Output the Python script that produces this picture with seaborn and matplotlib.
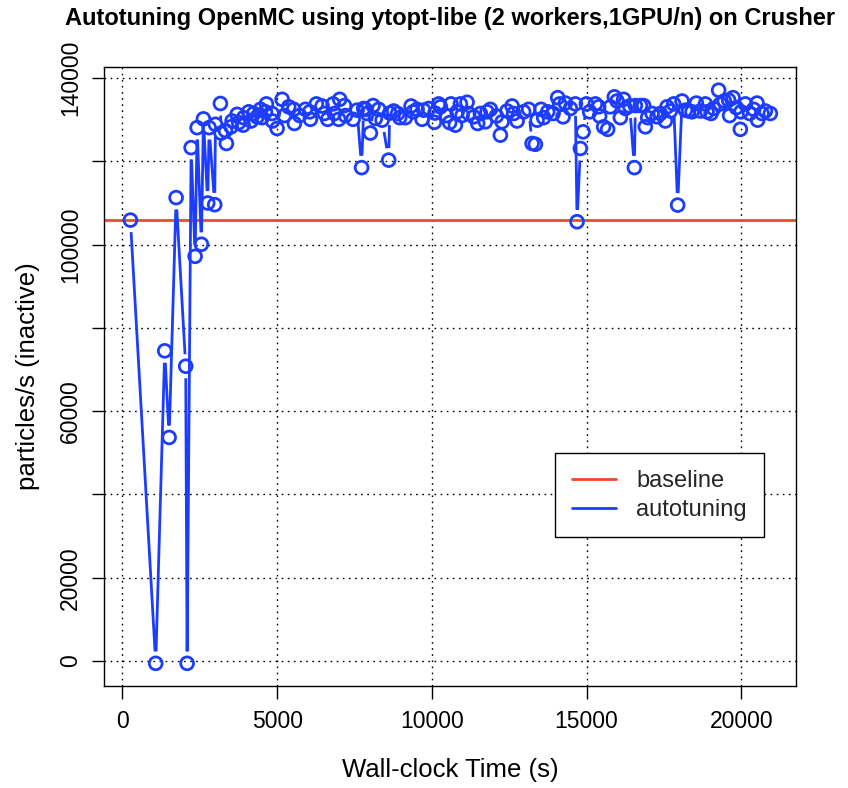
import numpy as np
import pandas as pd
import matplotlib
matplotlib.use("Agg")
import matplotlib.pyplot as plt
import seaborn as sns

# wall-clock time (s) and measured throughput of each autotuning evaluation
wall_time = [
    258, 1076, 1367, 1509, 1735, 2045, 2090, 2220, 2349, 2414,
    2552, 2617, 2756, 2801, 2982, 3005, 3166, 3189, 3328, 3360,
    3512, 3544, 3706, 3758, 3900, 3919, 4081, 4158, 4242, 4352,
    4459, 4514, 4620, 4653, 4837, 4850, 4998, 5160, 5234, 5373,
    5535, 5557, 5729, 5913, 6052, 6074, 6268, 6452, 6527, 6633,
    6808, 6850, 6989, 7021, 7173, 7205, 7454, 7583, 7729, 7796,
    7851, 7906, 8013, 8100, 8174, 8281, 8391, 8604, 8636, 8766,
    8895, 8960, 9144, 9328, 9393, 9522, 9683, 9735, 9897, 10081,
    10100, 10220, 10275, 10468, 10575, 10620, 10759, 10814, 10921, 10976,
    11137, 11189, 11351, 11480, 11567, 11729, 11784, 11890, 12084, 12213,
    12268, 12430, 12591, 12643, 12753, 12966, 13128, 13238, 13344, 13399,
    13528, 13612, 13742, 13916, 14065, 14129, 14239, 14313, 14475, 14636,
    14691, 14798, 14885, 14992, 15098, 15283, 15389, 15421, 15550, 15680,
    15767, 15896, 15984, 16090, 16197, 16252, 16391, 16543, 16575, 16737,
    16843, 16898, 16973, 17115, 17276, 17383, 17544, 17599, 17706, 17813,
    17942, 18084, 18191, 18297, 18407, 18546, 18675, 18837, 18891, 19021,
    19105, 19266, 19321, 19450, 19589, 19621, 19731, 19838, 19967, 19990,
    20129, 20268, 20397, 20507, 20526, 20668, 20775, 20937,
]
particles = [
    105900, -550, 74500, 53700, 111300, 70800, -550, 123300, 97200, 128100,
    100100, 130200, 110000, 128100, 109600, 128900, 133900, 126800, 127400, 124300,
    128300, 129700, 131300, 129300, 128700, 130500, 131900, 129700, 131500, 130700,
    132500, 130500, 131900, 133800, 131500, 129700, 127900, 134900, 131000, 133100,
    132500, 129100, 131000, 132500, 131900, 130100, 133800, 133300, 131500, 130100,
    133800, 131500, 130100, 134900, 133400, 131000, 130100, 132300, 118500, 132700,
    132500, 131500, 126800, 133400, 130300, 132500, 129900, 120300, 131600, 132100,
    131500, 130500, 130500, 133300, 131900, 132500, 130100, 132300, 132700, 129400,
    131600, 133800, 133100, 131000, 129300, 133800, 128700, 131900, 133800, 131000,
    134200, 131500, 130700, 129100, 131500, 129500, 131900, 132500, 130900, 126300,
    129500, 132100, 133300, 131500, 129700, 131900, 132500, 124300, 124100, 129900,
    132500, 130500, 131900, 131500, 135300, 133800, 130700, 134000, 132700, 133800,
    105500, 123100, 127100, 133800, 131900, 133800, 133100, 130900, 128300, 127700,
    133100, 135500, 134500, 130500, 134900, 132700, 133300, 118500, 133400, 133400,
    133400, 128300, 130500, 131500, 130700, 131500, 129700, 133100, 132100, 133800,
    109500, 134500, 132300, 132100, 131900, 134000, 132100, 133800, 131900, 131500,
    132700, 137100, 133800, 134500, 134700, 131000, 135300, 132900, 127700, 131900,
    133800, 131500, 132500, 134000, 129900, 131500, 132100, 131500,
]
baseline = 105900

x_ticks = [0, 5000, 10000, 15000, 20000]
y_ticks = [0, 20000, 40000, 60000, 80000, 100000, 120000, 140000]
y_tick_labels = ["0", "20000", "", "60000", "", "100000", "", "140000"]

df = pd.DataFrame({"wall_time": wall_time, "particles": particles})

BLUE = "#1c3dff"
RED = "#ef4a2e"

sns.set_theme(style="white")
plt.rcParams["font.family"] = ["Liberation Sans", "DejaVu Sans"]

fig = plt.figure(figsize=(8.48, 7.88), dpi=100)
ax = fig.add_axes([0.1232, 0.1294, 0.8149, 0.7855])

ax.set_xlim(-580, 21750)
ax.set_ylim(-6000, 142650)
ax.set_xticks(x_ticks)
ax.set_yticks(y_ticks)
ax.set_yticklabels(y_tick_labels)

ax.grid(True, color="black", linestyle=(0, (1.2, 3.2)), linewidth=1.0)
ax.set_axisbelow(True)

ax.axhline(baseline, color=RED, lw=2.0, zorder=2)

# R type="b": line segments broken around every point
fig.canvas.draw()
pix = ax.transData.transform(df[["wall_time", "particles"]].to_numpy())
gap = 12.0
seg_x, seg_y = [], []
for (x0, y0), (x1, y1) in zip(pix[:-1], pix[1:]):
    d = np.hypot(x1 - x0, y1 - y0)
    if d <= 2 * gap:
        continue
    ux, uy = (x1 - x0) / d, (y1 - y0) / d
    a = ax.transData.inverted().transform([(x0 + ux * gap, y0 + uy * gap),
                                           (x1 - ux * gap, y1 - uy * gap)])
    seg_x += [a[0, 0], a[1, 0], np.nan]
    seg_y += [a[0, 1], a[1, 1], np.nan]
ax.plot(seg_x, seg_y, color=BLUE, lw=2.0, zorder=3, solid_capstyle="butt")

sns.scatterplot(data=df, x="wall_time", y="particles", ax=ax, marker="o",
                s=85, facecolors="none", edgecolor=BLUE, linewidth=2.0, zorder=4)

for side in ["left", "right", "top", "bottom"]:
    ax.spines[side].set_color("black")
    ax.spines[side].set_linewidth(1.0)

ax.tick_params(axis="both", which="major", direction="out", length=9, width=1.0,
               color="black", labelsize=16.5, labelcolor="black",
               bottom=True, left=True)
ax.tick_params(axis="x", pad=8)
ax.tick_params(axis="y", pad=7)
for lab in ax.get_yticklabels():
    lab.set_rotation(90)
    lab.set_va("center")

ax.set_xlabel("Wall-clock Time (s)", fontsize=18.5, labelpad=18, color="black")
ax.set_ylabel("particles/s (inactive)", fontsize=18.5, labelpad=14, color="black")
ax.set_title("Autotuning OpenMC using ytopt-libe (2 workers,1GPU/n) on Crusher",
             fontsize=17, fontweight="bold", pad=30, color="black")

handles = [plt.Line2D([], [], color=RED, lw=2.0),
           plt.Line2D([], [], color=BLUE, lw=2.0)]
leg = ax.legend(handles, ["baseline", "autotuning"], loc="upper left",
                bbox_to_anchor=(0.652, 0.376), fontsize=17, frameon=True,
                fancybox=False, edgecolor="black", framealpha=1,
                handlelength=1.9, handletextpad=0.85, labelspacing=0.3,
                borderpad=0.7, borderaxespad=0)
leg.get_frame().set_linewidth(1.0)

fig.savefig("out.png", dpi=100)
